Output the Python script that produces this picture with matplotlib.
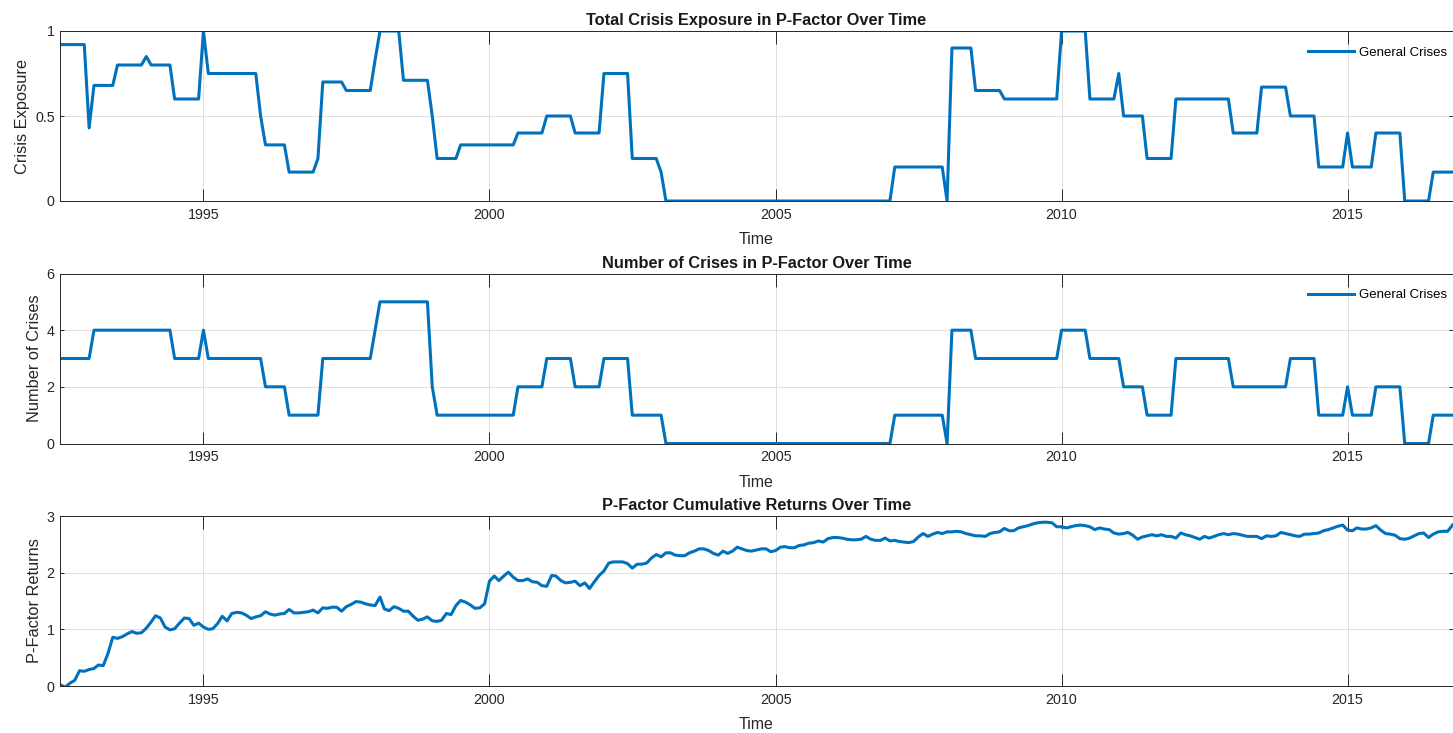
import matplotlib
matplotlib.use('Agg')
import matplotlib.pyplot as plt
import matplotlib.dates as mdates
import pandas as pd

plt.rcParams['font.family'] = ['Liberation Sans', 'DejaVu Sans']

# Crisis exposure (vertices of the monthly series)
exposure_dates = ['1992-07', '1992-12', '1993-01', '1993-02', '1993-06', '1993-07', '1993-12',
                  '1994-01', '1994-02', '1994-06', '1994-07', '1994-12', '1995-01', '1995-02',
                  '1995-12', '1996-01', '1996-02', '1996-06', '1996-07', '1996-12', '1997-01',
                  '1997-02', '1997-06', '1997-07', '1997-12', '1998-01', '1998-02', '1998-06',
                  '1998-07', '1998-12', '1999-01', '1999-02', '1999-06', '1999-07', '2000-06',
                  '2000-07', '2000-12', '2001-01', '2001-06', '2001-07', '2001-12', '2002-01',
                  '2002-06', '2002-07', '2002-12', '2003-01', '2003-02', '2007-01', '2007-02',
                  '2007-12', '2008-01', '2008-02', '2008-06', '2008-07', '2008-12', '2009-01',
                  '2009-12', '2010-01', '2010-06', '2010-07', '2010-12', '2011-01', '2011-02',
                  '2011-06', '2011-07', '2011-12', '2012-01', '2012-12', '2013-01', '2013-06',
                  '2013-07', '2013-12', '2014-01', '2014-06', '2014-07', '2014-12', '2015-01',
                  '2015-02', '2015-06', '2015-07', '2015-12', '2016-01', '2016-06', '2016-07',
                  '2016-11']
exposure_vals = [0.92, 0.92, 0.43, 0.68, 0.68, 0.80, 0.80,
                 0.85, 0.80, 0.80, 0.60, 0.60, 1.00, 0.75,
                 0.75, 0.50, 0.33, 0.33, 0.17, 0.17, 0.25,
                 0.70, 0.70, 0.65, 0.65, 0.83, 1.00, 1.00,
                 0.71, 0.71, 0.50, 0.25, 0.25, 0.33, 0.33,
                 0.40, 0.40, 0.50, 0.50, 0.40, 0.40, 0.75,
                 0.75, 0.25, 0.25, 0.17, 0.00, 0.00, 0.20,
                 0.20, 0.00, 0.90, 0.90, 0.65, 0.65, 0.60,
                 0.60, 1.00, 1.00, 0.60, 0.60, 0.75, 0.50,
                 0.50, 0.25, 0.25, 0.60, 0.60, 0.40, 0.40,
                 0.67, 0.67, 0.50, 0.50, 0.20, 0.20, 0.40,
                 0.20, 0.20, 0.40, 0.40, 0.00, 0.00, 0.17,
                 0.17]

# Number of crises (vertices)
count_dates = ['1992-07', '1993-01', '1993-02', '1994-06', '1994-07', '1994-12', '1995-01',
               '1995-02', '1996-01', '1996-02', '1996-06', '1996-07', '1997-01', '1997-02',
               '1997-12', '1998-01', '1998-02', '1998-12', '1999-01', '1999-02', '2000-06',
               '2000-07', '2000-12', '2001-01', '2001-06', '2001-07', '2001-12', '2002-01',
               '2002-06', '2002-07', '2003-01', '2003-02', '2007-01', '2007-02', '2007-12',
               '2008-01', '2008-02', '2008-06', '2008-07', '2009-12', '2010-01', '2010-06',
               '2010-07', '2011-01', '2011-02', '2011-06', '2011-07', '2011-12', '2012-01',
               '2012-12', '2013-01', '2013-12', '2014-01', '2014-06', '2014-07', '2014-12',
               '2015-01', '2015-02', '2015-06', '2015-07', '2015-12', '2016-01', '2016-06',
               '2016-07', '2016-11']
count_vals = [3, 3, 4, 4, 3, 3, 4,
              3, 3, 2, 2, 1, 1, 3,
              3, 4, 5, 5, 2, 1, 1,
              2, 2, 3, 3, 2, 2, 3,
              3, 1, 1, 0, 0, 1, 1,
              0, 4, 4, 3, 3, 4, 4,
              3, 3, 2, 2, 1, 1, 3,
              3, 2, 2, 3, 3, 1, 1,
              2, 1, 1, 2, 2, 0, 0,
              1, 1]

# Cumulative returns, monthly from July 1992
returns_start = '1992-07'
returns = [0.02, -0.02, 0.05, 0.10, 0.27, 0.26, 0.29, 0.31, 0.37, 0.36,
           0.57, 0.86, 0.84, 0.87, 0.92, 0.96, 0.93, 0.94, 1.02, 1.13,
           1.24, 1.20, 1.04, 0.99, 1.01, 1.11, 1.20, 1.19, 1.07, 1.11,
           1.04, 1.00, 1.01, 1.10, 1.23, 1.15, 1.28, 1.30, 1.29, 1.25,
           1.19, 1.22, 1.24, 1.31, 1.27, 1.25, 1.27, 1.28, 1.35, 1.29,
           1.29, 1.30, 1.31, 1.34, 1.29, 1.38, 1.37, 1.39, 1.39, 1.32,
           1.40, 1.44, 1.49, 1.48, 1.45, 1.43, 1.42, 1.57, 1.36, 1.33,
           1.40, 1.37, 1.32, 1.32, 1.23, 1.16, 1.18, 1.22, 1.15, 1.14,
           1.16, 1.28, 1.26, 1.42, 1.51, 1.48, 1.43, 1.37, 1.38, 1.45,
           1.85, 1.94, 1.86, 1.94, 2.01, 1.92, 1.86, 1.86, 1.89, 1.84,
           1.83, 1.77, 1.76, 1.95, 1.94, 1.86, 1.82, 1.83, 1.85, 1.77,
           1.82, 1.72, 1.84, 1.95, 2.03, 2.17, 2.19, 2.19, 2.19, 2.16,
           2.08, 2.15, 2.15, 2.17, 2.26, 2.32, 2.28, 2.35, 2.35, 2.31,
           2.30, 2.30, 2.35, 2.38, 2.42, 2.42, 2.39, 2.34, 2.31, 2.38,
           2.34, 2.38, 2.45, 2.42, 2.39, 2.38, 2.40, 2.42, 2.42, 2.37,
           2.39, 2.45, 2.46, 2.44, 2.44, 2.48, 2.49, 2.52, 2.53, 2.56,
           2.54, 2.60, 2.62, 2.62, 2.61, 2.59, 2.58, 2.58, 2.59, 2.64,
           2.59, 2.57, 2.57, 2.61, 2.56, 2.57, 2.55, 2.54, 2.53, 2.55,
           2.63, 2.69, 2.64, 2.68, 2.71, 2.69, 2.72, 2.72, 2.73, 2.72,
           2.69, 2.67, 2.65, 2.65, 2.64, 2.69, 2.71, 2.72, 2.78, 2.74,
           2.74, 2.79, 2.81, 2.83, 2.86, 2.88, 2.89, 2.89, 2.88, 2.81,
           2.81, 2.79, 2.81, 2.83, 2.84, 2.83, 2.81, 2.76, 2.79, 2.77,
           2.76, 2.70, 2.68, 2.69, 2.71, 2.66, 2.59, 2.63, 2.65, 2.67,
           2.65, 2.67, 2.64, 2.64, 2.61, 2.70, 2.67, 2.65, 2.62, 2.59,
           2.64, 2.61, 2.64, 2.67, 2.69, 2.67, 2.69, 2.68, 2.66, 2.64,
           2.64, 2.64, 2.60, 2.65, 2.64, 2.65, 2.71, 2.69, 2.67, 2.65,
           2.64, 2.68, 2.68, 2.69, 2.70, 2.74, 2.76, 2.79, 2.82, 2.84,
           2.75, 2.74, 2.79, 2.77, 2.77, 2.79, 2.83, 2.75, 2.69, 2.68,
           2.66, 2.60, 2.59, 2.61, 2.65, 2.69, 2.70, 2.62, 2.68, 2.72,
           2.73, 2.73, 2.84]

blue = '#0072BD'
dark = '#262626'

exp_t = pd.to_datetime(exposure_dates)
cnt_t = pd.to_datetime(count_dates)
ret_t = pd.date_range(returns_start, periods=len(returns), freq='MS')

fig = plt.figure(figsize=(14.53, 7.33), dpi=100)
W, H = 1453, 733
left = 60.3 / W
width = 1 - left - 0.5 / W
ax1 = fig.add_axes([left, 1 - 201 / H, width, 170 / H])
ax2 = fig.add_axes([left, 1 - 443.5 / H, width, 170 / H])
ax3 = fig.add_axes([left, 1 - 686 / H, width, 170 / H])

ax1.plot(exp_t, exposure_vals, color=blue, lw=2.2, label='General Crises')
ax2.plot(cnt_t, count_vals, color=blue, lw=2.2, label='General Crises')
ax3.plot(ret_t, returns, color=blue, lw=2.2)

ax1.set_ylim(0, 1)
ax1.set_yticks([0, 0.5, 1])
ax1.set_yticklabels(['0', '0.5', '1'])
ax2.set_ylim(0, 6)
ax2.set_yticks([0, 2, 4, 6])
ax3.set_ylim(0, 3)
ax3.set_yticks([0, 1, 2, 3])

titles = ['Total Crisis Exposure in P-Factor Over Time',
          'Number of Crises in P-Factor Over Time',
          'P-Factor Cumulative Returns Over Time']
ylabels = ['Crisis Exposure', 'Number of Crises', 'P-Factor Returns']

for ax, t, yl in zip([ax1, ax2, ax3], titles, ylabels):
    ax.set_xlim(pd.Timestamp('1992-07-01'), pd.Timestamp('2016-11-01'))
    ax.xaxis.set_major_locator(mdates.YearLocator(5))
    ax.xaxis.set_major_formatter(mdates.DateFormatter('%Y'))
    ax.grid(True, color='#dedede', lw=0.7)
    ax.set_axisbelow(True)
    for s in ax.spines.values():
        s.set_color(dark)
        s.set_linewidth(0.7)
    ax.tick_params(axis='both', direction='in', top=True, right=True,
                   colors=dark, labelsize=10.3, width=0.7)
    ax.tick_params(axis='x', length=9, pad=5)
    ax.tick_params(axis='y', length=3, pad=4)
    ax.set_title(t, fontsize=11.8, fontweight='bold', color='#1a1a1a', pad=4)
    ax.set_xlabel('Time', fontsize=11.5, color=dark, labelpad=7.5)
    ax.set_ylabel(yl, fontsize=11.8, color=dark, labelpad=3.5)

for ax in [ax1, ax2]:
    ax.legend(loc='upper right', bbox_to_anchor=(1.0, 0.94), borderaxespad=0,
              frameon=False, fontsize=9.5, handlelength=3.5, handletextpad=0.4)

fig.savefig('out.png', dpi=100)
